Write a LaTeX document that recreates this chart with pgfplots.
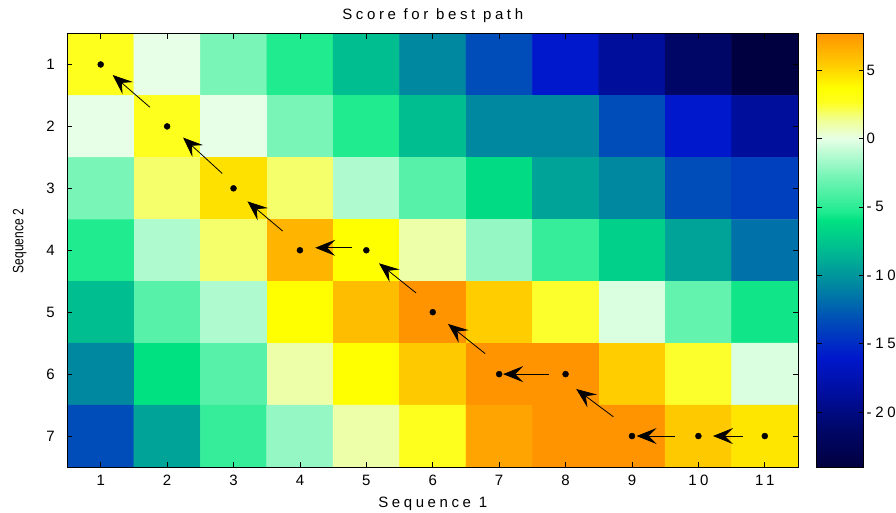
\documentclass[border=0pt]{standalone}
\usepackage{fontspec}
\setmainfont{Liberation Sans}[LetterSpace=24]
\newfontfamily\plainfont{Liberation Sans}
\usepackage{graphicx}
\usepackage{pgfplots}
\pgfplotsset{compat=1.18}
\usetikzlibrary{arrows.meta}
\pgfplotsset{colormap={bestpath}{
 rgb255(0pt)=(0,0,64);
 rgb255(8pt)=(0,6,102);
 rgb255(16pt)=(0,14,156);
 rgb255(24pt)=(0,24,204);
 rgb255(32pt)=(0,76,184);
 rgb255(40pt)=(0,136,160);
 rgb255(48pt)=(0,190,144);
 rgb255(54pt)=(0,225,130);
 rgb255(56pt)=(32,235,143);
 rgb255(64pt)=(122,245,184);
 rgb255(72pt)=(230,255,230);
 rgb255(76pt)=(240,255,150);
 rgb255(80pt)=(255,255,30);
 rgb255(83pt)=(255,255,0);
 rgb255(88pt)=(255,205,0);
 rgb255(95pt)=(255,148,0)}}
\pgfplotstableread{
x y c
1 1 2.67
2 1 0
3 1 -2.67
4 1 -5.33
5 1 -8
6 1 -10.67
7 1 -13.33
8 1 -16
9 1 -18.67
10 1 -21.33
11 1 -24
1 2 0
2 2 2.67
3 2 0
4 2 -2.67
5 2 -5.33
6 2 -8
7 2 -10.67
8 2 -10.67
9 2 -13.33
10 2 -16
11 2 -18.67
1 3 -2.67
2 3 1.8
3 3 4.67
4 3 1.8
5 3 -1.33
6 3 -3.67
7 3 -6.33
8 3 -9.33
9 3 -10.67
10 3 -13.33
11 3 -14
1 4 -5.33
2 4 -1.33
3 4 1.8
4 4 6.33
5 4 3.67
6 4 1
7 4 -2
8 4 -4.67
9 4 -7
10 4 -9.33
11 4 -11.67
1 5 -8
2 5 -3.67
3 5 -1.33
4 5 3.67
5 5 6
6 5 7.67
7 5 5.33
8 5 2.5
9 5 -0.33
10 5 -3.33
11 5 -5.67
1 6 -10.67
2 6 -6
3 6 -3.67
4 6 1
5 6 3.67
6 6 5.5
7 6 7.67
8 6 7.67
9 6 5.33
10 6 2.5
11 6 -0.33
1 7 -13.33
2 7 -9.33
3 7 -4.67
4 7 -2
5 7 1
6 7 2.67
7 7 7
8 7 7.67
9 7 7.67
10 7 5.5
11 7 4.5
}\scoretable
\pgfplotstableread{
x y u v
1.74 1.69 -0.56 -0.52
2.83 2.76 -0.59 -0.58
3.74 3.69 -0.53 -0.48
4.78 3.96 -0.55 0
5.75 4.69 -0.56 -0.48
6.79 5.67 -0.56 -0.48
7.75 6.00 -0.69 0
8.72 6.69 -0.56 -0.45
9.65 7.00 -0.58 0
10.67 7.00 -0.45 0
}\arrowtable
\begin{document}
\fontsize{15}{18}\selectfont
\begin{tikzpicture}
\path[use as bounding box] (0,0) rectangle (896pt,512pt);
\begin{axis}[
  at={(67.5pt,45pt)}, anchor=south west,
  scale only axis, width=730.5pt, height=433.5pt,
  xmin=0.5, xmax=11.5, ymin=0.5, ymax=7.5,
  y dir=reverse,
  xtick={1,2,3,4,5,6,7,8,9,10,11},
  xticklabels={1,2,3,4,5,6,7,8,9,10,11},
  ytick={1,2,3,4,5,6,7},
  yticklabels={1,2,3,4,5,6,7},
  xticklabel style={yshift=-3pt},
  yticklabel style={font=\plainfont, xshift=-7.5pt},
  tick align=inside,
  major tick length=5pt,
  tick style={black, line width=0.8pt},
  axis line style={black, line width=1pt},
  axis on top,
  title={Score for best path},
  title style={at={(axis description cs:0.5,1)}, anchor=base, yshift=8pt},
  xlabel={Sequence 1},
  xlabel style={at={(axis description cs:0.5,0)}, anchor=base, yshift=-40pt},
  ylabel={\plainfont\scalebox{0.8}[1]{Sequence 2}},
  ylabel style={at={(axis description cs:-0.0605,0.521)}, anchor=base},
  colormap name=bestpath,
  point meta min=-24, point meta max=7.6667,
  colorbar,
  colorbar/width=47pt,
  colorbar style={
    at={(parent axis.north east)}, anchor=north west, xshift=10pt,
    scale only axis, width=47pt, height=433.5pt,
    xmin=0, xmax=1,
    ytick={-20,-15,-10,-5,0,5},
    yticklabels={-20,-15,-10,-5,0,5},
    yticklabel pos=right,
    ytick pos=both,
    yticklabel style={xshift=-2pt},
    tick align=inside,
    major tick length=5pt,
    tick style={black, line width=0.8pt},
    axis line style={black, line width=1pt},
  },
]
\addplot[matrix plot*, mesh/cols=11, point meta=explicit] table[x=x, y=y, meta=c] {\scoretable};
\addplot[black, line width=0.8pt, quiver={u=\thisrow{u}, v=\thisrow{v}},
  -{Stealth[length=20pt, width=16pt, inset=8pt]}] table[x=x, y=y] {\arrowtable};
\addplot[only marks, mark=*, mark size=3pt, black] coordinates {
 (1,1) (2,2) (3,3) (4,4) (5,4) (6,5) (7,6) (8,6) (9,7) (10,7) (11,7)};
\end{axis}
\end{tikzpicture}
\end{document}
